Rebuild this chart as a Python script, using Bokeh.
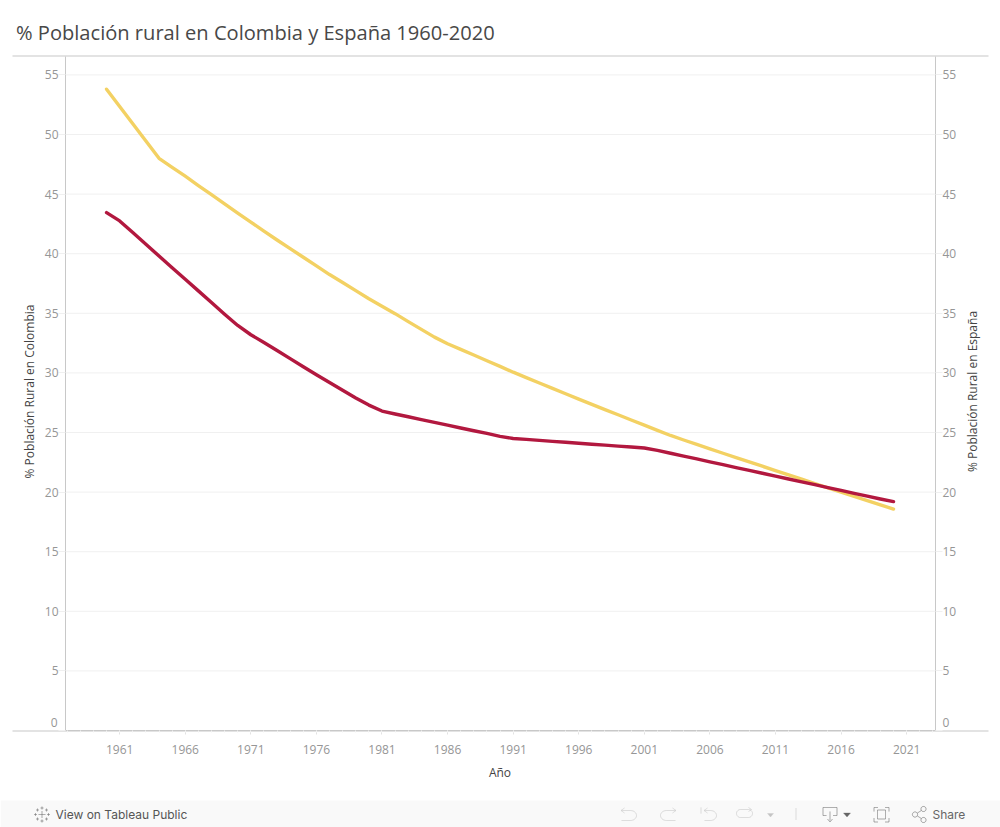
import math
from bokeh.plotting import figure
from bokeh.models import (BoxAnnotation, ColumnDataSource, FixedTicker, Label, LinearAxis,
                          PolyAnnotation, Range1d)
from bokeh.embed import file_html
from bokeh.resources import INLINE

# ---- data -------------------------------------------------------------
TITLE = "% Población rural en Colombia y España 1960-2020"
X_LABEL = "Año"
Y_LABEL_LEFT = "% Población Rural en Colombia"
Y_LABEL_RIGHT = "% Población Rural en España"
years = list(range(1960, 2021))
x_ticks = [1961, 1966, 1971, 1976, 1981, 1986, 1991, 1996, 2001, 2006, 2011, 2016, 2021]
y_ticks = [0, 5, 10, 15, 20, 25, 30, 35, 40, 45, 50, 55]
rural_red = [43.45, 42.75, 41.78, 40.8, 39.8, 38.82, 37.85, 36.88, 35.9, 34.92,
             33.98, 33.2, 32.55, 31.88, 31.2, 30.52, 29.85, 29.2, 28.55, 27.9,
             27.3, 26.8, 26.55, 26.32, 26.08, 25.85, 25.62, 25.38, 25.15, 24.92,
             24.68, 24.5, 24.42, 24.34, 24.26, 24.18, 24.1, 24.02, 23.94, 23.86,
             23.78, 23.7, 23.5, 23.26, 23.02, 22.78, 22.54, 22.3, 22.06, 21.82,
             21.58, 21.34, 21.1, 20.86, 20.62, 20.38, 20.14, 19.9, 19.66, 19.42,
             19.2]
rural_yellow = [53.8, 52.35, 50.9, 49.45, 48.0, 47.25, 46.5, 45.72, 44.95, 44.18,
                43.4, 42.65, 41.9, 41.15, 40.42, 39.7, 38.98, 38.25, 37.58, 36.9,
                36.22, 35.6, 34.97, 34.3, 33.65, 33.0, 32.45, 31.97, 31.5, 31.02,
                30.55, 30.06, 29.6, 29.15, 28.7, 28.25, 27.8, 27.36, 26.92, 26.49,
                26.05, 25.62, 25.18, 24.75, 24.37, 24.0, 23.63, 23.26, 22.9, 22.54,
                22.17, 21.8, 21.44, 21.08, 20.72, 20.36, 20.0, 19.64, 19.28, 18.93,
                18.58]

# ---- layout -----------------------------------------------------------
W, H = 1000, 827
FONT = "Open Sans"
RULE = "#c8c8c8"
TICK_TEXT = "#969696"
X0, X1 = 1956.87, 2023.2     # ends of the plot area
YTOP = 56.54                 # top of the plot area
PXX = 870 / (X1 - X0)
PXY = 11.92

p = figure(width=W, height=H, output_backend="svg", toolbar_location=None,
           x_range=Range1d(X0 - 65 / PXX, X0 + 935 / PXX),
           y_range=Range1d(-(H - 730) / PXY, 730 / PXY),
           min_border=0)
p.outline_line_color = None
p.grid.visible = False

# grid lines stop at the plot area
grid_vals = [v for v in y_ticks if v > 0]
p.segment(x0=[X0] * len(grid_vals), x1=[X1] * len(grid_vals), y0=grid_vals, y1=grid_vals,
          line_color="#f0f0f0", line_width=1)

left = p.yaxis[0]
left.fixed_location = X0
right = LinearAxis(fixed_location=X1)
p.add_layout(right, "right")

for ax in [left, right]:
    ax.ticker = FixedTicker(ticks=y_ticks)
    ax.bounds = (0, YTOP)
    ax.axis_line_color = RULE
    ax.major_tick_line_color = "#f0f0f0"
    ax.major_tick_out = 7
    ax.major_tick_in = 0
    ax.minor_tick_line_color = None
    ax.major_label_standoff = 0
    ax.major_label_text_font = FONT
    ax.major_label_text_font_size = "12px"
    ax.major_label_text_color = TICK_TEXT
    ax.major_label_overrides = {0: ""}

xa = p.xaxis[0]
xa.fixed_location = 0
xa.bounds = (X0, X1)
xa.ticker = FixedTicker(ticks=x_ticks, minor_ticks=list(range(1957, 2024)))
xa.axis_line_color = RULE
xa.major_tick_line_color = "#e2e2e2"
xa.major_tick_out = 4
xa.major_tick_in = 0
xa.minor_tick_line_color = "#f2f2f2"
xa.minor_tick_out = 2
xa.minor_tick_in = 0
xa.major_label_standoff = 10
xa.major_label_text_font = FONT
xa.major_label_text_font_size = "12px"
xa.major_label_text_color = TICK_TEXT

src = ColumnDataSource(dict(year=years, red=rural_red, yellow=rural_yellow))
p.line("year", "yellow", source=src, line_color="#f3d163", line_width=3.4, line_cap="round", line_join="round")
p.line("year", "red", source=src, line_color="#b2183f", line_width=3.4, line_cap="round", line_join="round")


def box(l, t, r, b, fill=None):
    p.add_layout(BoxAnnotation(left=l, right=r, top=H - t, bottom=H - b,
                               left_units="screen", right_units="screen",
                               top_units="screen", bottom_units="screen",
                               fill_color=fill, fill_alpha=1, line_alpha=0,
                               level="underlay", editable=False))


def stroke(pts, color="#8f8f8f", width=1.0, fill=None):
    xs = [a for a, _ in pts]
    ys = [H - b for _, b in pts]
    if fill is None:
        xs = xs + xs[::-1]
        ys = ys + ys[::-1]
    p.add_layout(PolyAnnotation(xs=xs, ys=ys, xs_units="screen", ys_units="screen",
                                fill_color=fill, fill_alpha=1 if fill else 0,
                                line_color=color, line_width=width, level="overlay",
                                editable=False))


def arc(cx, cy, rx, ry, a0, a1, n=14):
    return [(cx + rx * math.cos(math.radians(a0 + (a1 - a0) * i / n)),
             cy + ry * math.sin(math.radians(a0 + (a1 - a0) * i / n))) for i in range(n + 1)]


def label(x, y, text, size, color, font=FONT, style="normal", align="left", angle=0.0):
    p.add_layout(Label(x=x, y=H - y, x_units="screen", y_units="screen", text=text,
                       text_font=font, text_font_size=size, text_color=color,
                       text_font_style=style, text_align=align, text_baseline="middle",
                       angle=angle))


# rules that run past the plot area
box(12, 55, 988, 56, fill=RULE)
box(12, 730, 988, 731, fill=RULE)

# title and axis titles
label(15.5, 32, TITLE, "20.1px", "#484848")
label(499.5, 771.5, X_LABEL, "12px", "#444444", align="center")
label(29, 391, Y_LABEL_LEFT, "12px", "#444444", align="center", angle=math.pi / 2)
label(972, 391, Y_LABEL_RIGHT, "12px", "#444444", align="center", angle=math.pi / 2)

# the zero labels sit above the axis line in the reference
label(57, 721.5, "0", "12px", TICK_TEXT, align="right")
label(942, 721.5, "0", "12px", TICK_TEXT, align="left")

# bottom bar
box(0, 800, 1000, 827, fill="#f9f9f9")
label(55, 813.5, "View on Tableau Public", "12px", "#555555", font="Inter", style="normal")
label(932, 813.5, "Share", "12px", "#666666", font="Inter", style="normal")

# tableau mark
LOGO = "#666666"
for cx, cy, s in [(41.5, 814, 3.5), (41.5, 807.5, 1.5), (41.5, 820.5, 1.5), (35, 814, 1.5), (48, 814, 1.5),
                  (37, 809.5, 1.5), (46, 809.5, 1.5), (37, 818.5, 1.5), (46, 818.5, 1.5)]:
    stroke([(cx - s, cy), (cx + s, cy)], LOGO)
    stroke([(cx, cy - s), (cx, cy + s)], LOGO)

# undo / redo / replay / pause icons
DIM = "#c4c4c4"
stroke([(621, 810)] + arc(630, 815, 6, 5, -90, 90) + [(621, 820)], DIM)
stroke([(624, 807.5), (620.5, 810), (624, 812.5)], DIM)
stroke([(675, 810)] + arc(666, 815, 6, 5, 270, 90) + [(675, 820)], DIM)
stroke([(672, 807.5), (675.5, 810), (672, 812.5)], DIM)
stroke([(704, 810)] + arc(710, 815, 6, 5, -90, 90) + [(704, 820)], DIM)
stroke([(707, 807.5), (703.5, 810), (707, 812.5)], DIM)
stroke([(700.5, 807), (700.5, 813)], DIM)
stroke(arc(748, 813, 4, 4, -90, 90) + arc(740, 813, 4, 4, 90, 270) + [(748, 809)], DIM)
stroke([(748, 807), (751, 809), (748, 811)], DIM)
stroke([(767, 813), (773, 813), (770, 816.5)], DIM, fill=DIM)
stroke([(795.5, 807.5), (795.5, 819.5)], DIM)

# download
ICON = "#666666"
stroke([(826, 815), (822.5, 815), (822.5, 807), (836.5, 807), (836.5, 815), (832.5, 815)], ICON)
stroke([(829.5, 811), (829.5, 820)], ICON)
stroke([(827, 818.5), (829.5, 821.5), (832, 818.5)], ICON)
stroke([(843, 812.5), (850, 812.5), (846.5, 816.5)], ICON, fill=ICON)

# full screen
stroke([(873.5, 811), (873.5, 807), (877.5, 807)], ICON)
stroke([(884.5, 807), (888.5, 807), (888.5, 811)], ICON)
stroke([(873.5, 817.5), (873.5, 821.5), (877.5, 821.5)], ICON)
stroke([(884.5, 821.5), (888.5, 821.5), (888.5, 817.5)], ICON)
stroke([(877, 809.5), (885, 809.5), (885, 818.5), (877, 818.5), (877, 809.5)], ICON)

# share
stroke(arc(914.5, 814, 2.6, 2.6, 0, 360), ICON)
stroke(arc(923, 808.5, 2.6, 2.6, 0, 360), ICON)
stroke(arc(923, 819.5, 2.6, 2.6, 0, 360), ICON)
stroke([(916.8, 812.6), (920.8, 810)], ICON)
stroke([(916.8, 815.4), (920.8, 818)], ICON)

open("out.html", "w").write(file_html(p, INLINE))
